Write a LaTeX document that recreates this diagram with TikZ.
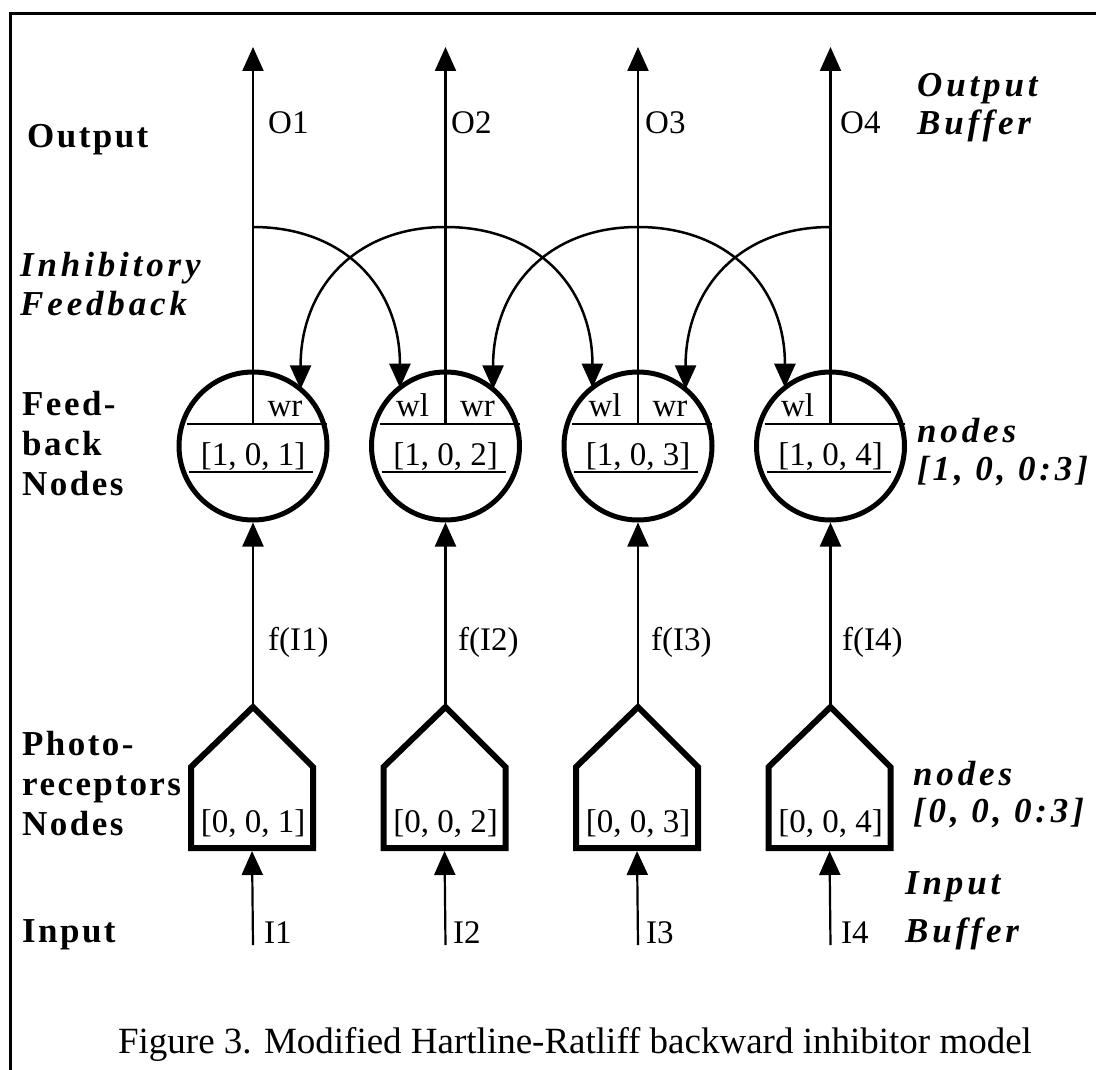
\documentclass[tikz,border=0pt]{standalone}
\usepackage{fontspec}
\setmainfont{Liberation Serif}
\usetikzlibrary{arrows.meta,calc}
\begin{document}
\begin{tikzpicture}[x=1pt,y=-1pt,
  wire/.style={line width=2.2pt},
  tip/.style={-{Triangle[length=24pt,width=21pt]}},
  fbarc/.style={line width=2.5pt,-{Triangle[length=24pt,width=21pt]}},
  chord/.style={line width=2.5pt},
  neuron/.style={circle,draw,line width=5pt,minimum size=148pt,inner sep=0pt,outer sep=0pt},
  recep/.style={draw=none,minimum width=122pt,minimum height=81pt,inner sep=0pt,outer sep=0pt},
  penta/.style={line width=6pt,line join=miter},
  txt/.style={font=\fontsize{33}{40}\selectfont,inner sep=0pt},
  blbl/.style={font=\fontsize{35}{40}\selectfont\bfseries\addfontfeatures{LetterSpace=7},inner sep=0pt,align=left,anchor=base west},
  bilbl/.style={font=\fontsize{35}{39}\selectfont\bfseries\itshape\addfontfeatures{LetterSpace=11},inner sep=0pt,align=left,anchor=base west},
  captext/.style={font=\fontsize{37}{44}\selectfont,inner sep=0pt,anchor=base}
]
\useasboundingbox (0,0) rectangle (1096,1070);
\fill[white] (0,0) rectangle (1096,1070);
% frame
\draw[line width=3pt] (10,1070) -- (10,14) -- (1096,14);

\foreach \i/\c in {1/253,2/445.5,3/638,4/830.5}{
  % feedback node
  \node[neuron] (fb\i) at (\c,446) {};
  \draw[chord] (\c-66,424) -- (\c+74,424);
  \draw[chord] (\c-64,472) -- (\c+60,472);
  \node[txt,anchor=base] (fbt\i) at (\c,465) {[1, 0, \i]};
  % photoreceptor node
  \node[recep] (pr\i) at (\c-1,807.5) {};
  \coordinate (apex\i) at (\c,707);
  \draw[penta] (pr\i.north west) -- (apex\i) -- (pr\i.north east) -- (pr\i.south east) -- (pr\i.south west) -- cycle;
  \node[txt,anchor=base] (prt\i) at (\c,832) {[0, 0, \i]};
  % coordinates
  \coordinate (in\i) at (\c,945);
  \coordinate (out\i) at (\c,47);
  \coordinate (top\i) at (\c,424);
  \coordinate (fbk\i) at (\c,227);
  % connectors
  \draw[wire,tip,shorten >=3pt] (in\i) -- (pr\i.south);
  \draw[wire,tip,shorten >=2.5pt] (apex\i) -- (fb\i.south);
  \draw[wire,tip] (top\i) -- (out\i);
}

% inhibitory feedback arcs (to the right)
\foreach \i/\j in {1/2,2/3,3/4}{
  \draw[fbarc] (fbk\i) .. controls ($(fbk\i)+(91.5,0)$) and ($(fb\j.128)+(0,-100)$) .. (fb\j.128);
}
% inhibitory feedback arcs (to the left)
\foreach \i/\j in {2/1,3/2,4/3}{
  \draw[fbarc] (fbk\i) .. controls ($(fbk\i)+(-91.5,0)$) and ($(fb\j.50)+(0,-100)$) .. (fb\j.50);
}

% weight labels
\node[txt,anchor=base] (wr1) at (253+32,416) {wr};
\node[txt,anchor=base] (wl2) at (445.5-33,416) {wl};
\node[txt,anchor=base] (wr2) at (445.5+32,416) {wr};
\node[txt,anchor=base] (wl3) at (638-33,416) {wl};
\node[txt,anchor=base] (wr3) at (638+32,416) {wr};
\node[txt,anchor=base] (wl4) at (830.5-33,416) {wl};

% signal labels
\node[txt,anchor=base west] (o1) at (268,134) {O1};
\node[txt,anchor=base west] (o2) at (451,134) {O2};
\node[txt,anchor=base west] (o3) at (645,134) {O3};
\node[txt,anchor=base west] (o4) at (840,134) {O4};
\node[txt,anchor=base west] (f1) at (268,650) {f(I1)};
\node[txt,anchor=base west] (f2) at (458,650) {f(I2)};
\node[txt,anchor=base west] (f3) at (651,650) {f(I3)};
\node[txt,anchor=base west] (f4) at (842,650) {f(I4)};
\node[txt,anchor=base west] (i1) at (264,943) {I1};
\node[txt,anchor=base west] (i2) at (453,943) {I2};
\node[txt,anchor=base west] (i3) at (646,943) {I3};
\node[txt,anchor=base west] (i4) at (841,943) {I4};

% left row labels (base = baseline of last line)
\node[blbl] (lout) at (27,148) {Output};
\node[bilbl] (linh) at (20,315) {Inhibitory\\Feedback};
\node[blbl] (lfb) at (22,495) {Feed-\\back\\Nodes};
\node[blbl] (lpr) at (22,835) {Photo-\\receptors\\Nodes};
\node[blbl] (lin) at (22,942) {Input};

% right labels
\node[bilbl,font=\fontsize{35}{38}\selectfont\bfseries\itshape\addfontfeatures{LetterSpace=11}] (rob) at (917,135) {Output\\Buffer};
\node[bilbl,font=\fontsize{35}{38}\selectfont\bfseries\itshape\addfontfeatures{LetterSpace=11}] (rn1) at (917,480) {nodes\\{[1, 0, 0:3]}};
\node[bilbl,font=\fontsize{35}{37}\selectfont\bfseries\itshape\addfontfeatures{LetterSpace=11}] (rn0) at (913,822) {nodes\\{[0, 0, 0:3]}};
\node[bilbl,font=\fontsize{35}{48}\selectfont\bfseries\itshape\addfontfeatures{LetterSpace=11}] (rib) at (905,942) {Input\\Buffer};

% caption
\node[captext] (caption) at (575,1053) {Figure 3. Modified Hartline-Ratliff backward inhibitor model};
\end{tikzpicture}
\end{document}
